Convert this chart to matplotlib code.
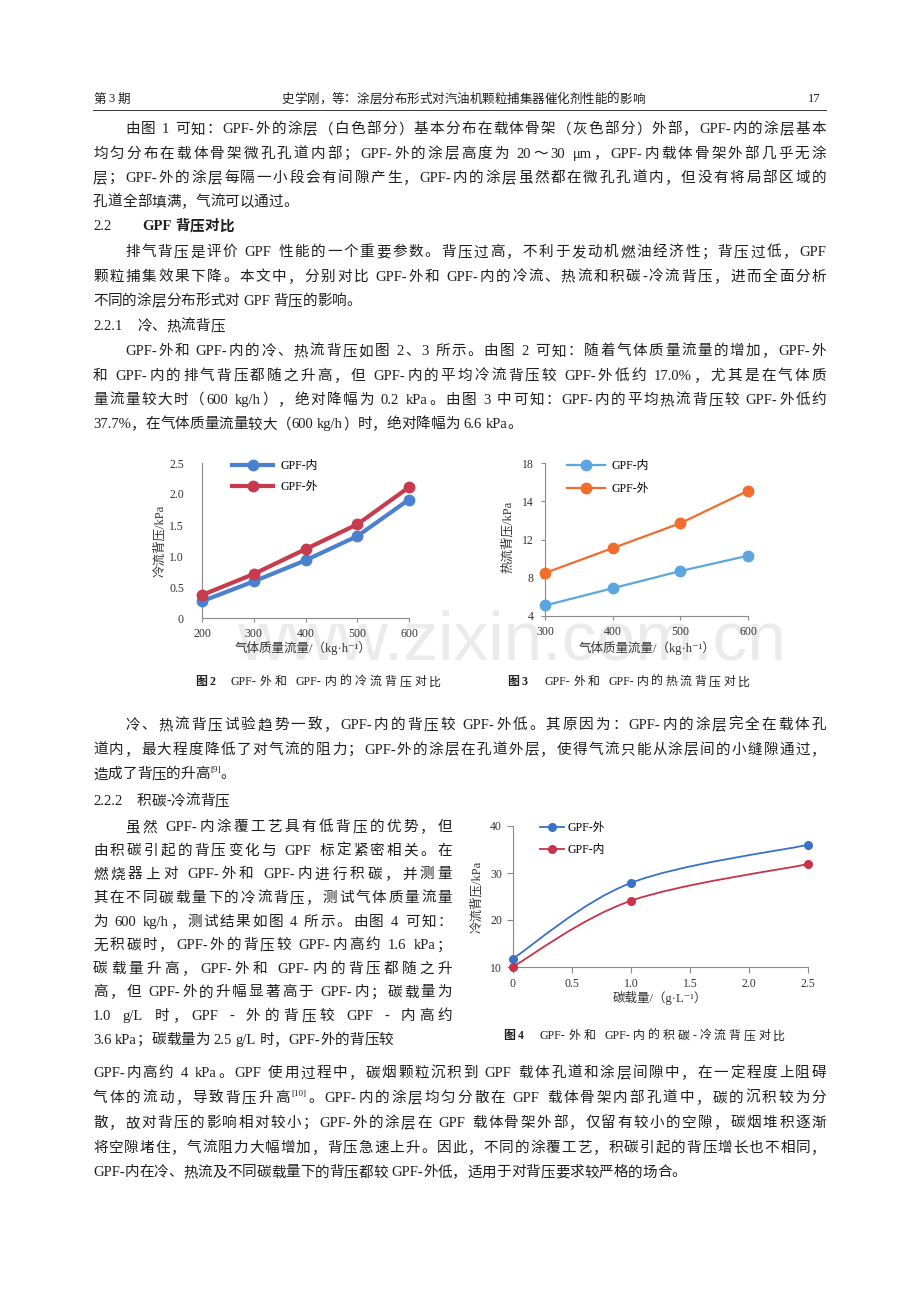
import numpy as np
import matplotlib
matplotlib.use('Agg')
import matplotlib.pyplot as plt
from matplotlib.path import Path
from matplotlib.patches import PathPatch
from matplotlib.lines import Line2D

plt.rcParams['font.family'] = ['Liberation Serif', 'Noto Sans CJK SC', 'DejaVu Sans']
plt.rcParams['axes.unicode_minus'] = False

W, H = 920, 1302
FS = 10.5
INK = '#1e1e1e'

# ---- chart data ----
# fig 2: cold flow back pressure
flow_cold = [200, 300, 400, 500, 600]
cold_in = [0.27, 0.59, 0.93, 1.32, 1.91]
cold_out = [0.37, 0.71, 1.11, 1.51, 2.11]
cold_yticks = [0, 0.5, 1.0, 1.5, 2.0, 2.5]
cold_ylabels = ['0', '0.5', '1.0', '1.5', '2.0', '2.5']

# fig 3: hot flow back pressure (tick labels printed as on the page)
flow_hot = [300, 400, 500, 600]
hot_in = [5.1, 6.9, 8.7, 10.3]
hot_out = [8.5, 11.1, 13.7, 17.1]
hot_yticks = [4, 8, 12, 16, 20]
hot_ylabels = ['4', '8', '12', '14', '18']

# fig 4: soot loading vs cold flow back pressure
soot = [0, 1.0, 2.5]
soot_out = [11.8, 27.9, 36.0]
soot_in = [10.1, 24.1, 31.9]
soot_xticks = [0, 0.5, 1.0, 1.5, 2.0, 2.5]
soot_xlabels = ['0', '0.5', '1.0', '1.5', '2.0', '2.5']

# ---- page text ----
para1 = ["由图 1 可知：GPF-外的涂层（白色部分）基本分布在载体骨架（灰色部分）外部，GPF-内的涂层基本",
         "均匀分布在载体骨架微孔孔道内部；GPF-外的涂层高度为 20～30 μm，GPF-内载体骨架外部几乎无涂",
         "层；GPF-外的涂层每隔一小段会有间隙产生，GPF-内的涂层虽然都在微孔孔道内，但没有将局部区域的",
         "孔道全部填满，气流可以通过。"]
para2 = ["排气背压是评价 GPF 性能的一个重要参数。背压过高，不利于发动机燃油经济性；背压过低，GPF",
         "颗粒捕集效果下降。本文中，分别对比 GPF-外和 GPF-内的冷流、热流和积碳-冷流背压，进而全面分析",
         "不同的涂层分布形式对 GPF 背压的影响。"]
para3 = ["GPF-外和 GPF-内的冷、热流背压如图 2、3 所示。由图 2 可知：随着气体质量流量的增加，GPF-外",
         "和 GPF-内的排气背压都随之升高，但 GPF-内的平均冷流背压较 GPF-外低约 17.0%，尤其是在气体质",
         "量流量较大时（600 kg/h），绝对降幅为 0.2 kPa。由图 3 中可知：GPF-内的平均热流背压较 GPF-外低约",
         "37.7%，在气体质量流量较大（600 kg/h）时，绝对降幅为 6.6 kPa。"]
para4 = ["冷、热流背压试验趋势一致，GPF-内的背压较 GPF-外低。其原因为：GPF-内的涂层完全在载体孔",
         "道内，最大程度降低了对气流的阻力；GPF-外的涂层在孔道外层，使得气流只能从涂层间的小缝隙通过，",
         "造成了背压的升高^[9]^。"]
para5 = ["虽然 GPF-内涂覆工艺具有低背压的优势，但",
         "由积碳引起的背压变化与 GPF 标定紧密相关。在",
         "燃烧器上对 GPF-外和 GPF-内进行积碳，并测量",
         "其在不同碳载量下的冷流背压，测试气体质量流量",
         "为 600 kg/h，测试结果如图 4 所示。由图 4 可知：",
         "无积碳时，GPF-外的背压较 GPF-内高约 1.6 kPa；",
         "碳载量升高，GPF-外和 GPF-内的背压都随之升",
         "高，但 GPF-外的升幅显著高于 GPF-内；碳载量为",
         "1.0 g/L 时，GPF - 外的背压较 GPF - 内高约",
         "3.6 kPa；碳载量为 2.5 g/L 时，GPF-外的背压较"]
para6 = ["GPF-内高约 4 kPa。GPF 使用过程中，碳烟颗粒沉积到 GPF 载体孔道和涂层间隙中，在一定程度上阻碍",
         "气体的流动，导致背压升高^[10]^。GPF-内的涂层均匀分散在 GPF 载体骨架内部孔道中，碳的沉积较为分",
         "散，故对背压的影响相对较小；GPF-外的涂层在 GPF 载体骨架外部，仅留有较小的空隙，碳烟堆积逐渐",
         "将空隙堵住，气流阻力大幅增加，背压急速上升。因此，不同的涂覆工艺，积碳引起的背压增长也不相同，",
         "GPF-内在冷、热流及不同碳载量下的背压都较 GPF-外低，适用于对背压要求较严格的场合。"]

fig = plt.figure(figsize=(W / 100, H / 100), dpi=100)
renderer = fig.canvas.get_renderer()


def tokenize(s):
    toks, buf, i = [], '', 0
    while i < len(s):
        c = s[i]
        if c == '^':
            j = s.index('^', i + 1)
            if buf:
                toks.append(('w', buf)); buf = ''
            toks.append(('sup', s[i + 1:j]))
            i = j + 1
            continue
        if c in ' 　':
            if buf:
                toks.append(('w', buf)); buf = ''
            toks.append(('sp', 0.25 if c == ' ' else 1.0))
        elif ord(c) < 0x2000:
            buf += c
        else:
            if buf:
                toks.append(('w', buf)); buf = ''
            toks.append(('w', c))
        i += 1
    if buf:
        toks.append(('w', buf))
    return toks


def text_line(s, x0, yc, x1=None, size=FS, weight='normal', color=INK, center=None):
    # place a line token by token so it can be justified between x0 and x1
    px = size * 100 / 72
    items = []
    for kind, t in tokenize(s):
        if kind == 'sp':
            items.append((None, px * t, kind))
            continue
        fs = size * 0.62 if kind == 'sup' else size
        txt = fig.text(0, 0, t, fontsize=fs, weight=weight, color=color,
                       ha='left', va='baseline')
        items.append((txt, txt.get_window_extent(renderer).width, kind))
    total = sum(w for _, w, _ in items)
    extra = 0
    if x1 is not None and len(items) > 1:
        extra = (x1 - x0 - total) / (len(items) - 1)
    if center is not None:
        x0 = center - total / 2
    base = yc + 0.36 * px
    x = x0
    for txt, w, kind in items:
        if txt is not None:
            yy = base - 0.42 * px if kind == 'sup' else base
            txt.set_position((x / W, 1 - yy / H))
        x += w + extra


def paragraph(lines, y0, step, left=93, right=826, indent=32):
    for k, s in enumerate(lines):
        x0 = left + indent if k == 0 else left
        last = k == len(lines) - 1
        text_line(s, x0, y0 + k * step, None if last else right)


# header
text_line("第 3 期", 93, 98, size=9)
text_line("史学刚，等：涂层分布形式对汽油机颗粒捕集器催化剂性能的影响", 0, 98, size=9, center=463)
text_line("17", 808, 98, size=9)
fig.add_artist(Line2D([93 / W, 826 / W], [1 - 110 / H, 1 - 110 / H], color='#333333', lw=0.7))

paragraph(para1, 128, 24.3)
text_line("2.2", 93, 225)
text_line("GPF 背压对比", 142, 225, weight='bold')
paragraph(para2, 251, 24.5)
text_line("2.2.1　冷、热流背压", 93, 325)
paragraph(para3, 350, 24.4)

paragraph(para4, 724, 24.5)
text_line("2.2.2　积碳-冷流背压", 93, 800)
paragraph(para5, 826, 23.6, right=452)
paragraph(para6, 1072, 24.8, indent=0)

# captions
CAP = 8.6
text_line("图 2", 195, 681, size=CAP, weight='bold')
text_line("GPF-外和 GPF-内的冷流背压对比", 231, 681, 441, size=CAP)
text_line("图 3", 507, 681, size=CAP, weight='bold')
text_line("GPF-外和 GPF-内的热流背压对比", 545, 681, 750, size=CAP)
text_line("图 4", 503, 1035, size=CAP, weight='bold')
text_line("GPF-外和 GPF-内的积碳-冷流背压对比", 540, 1035, 785, size=CAP)

# watermark
fig.text(512 / W, 1 - 660 / H, "www.zixin.com.cn", fontsize=50, family='Liberation Sans',
         color='#ebebeb', ha='center', va='baseline', zorder=-5)


def make_axes(x0, x1, ytop, ybot):
    ax = fig.add_axes([x0 / W, 1 - ybot / H, (x1 - x0) / W, (ybot - ytop) / H])
    ax.patch.set_alpha(0)
    for side in ['top', 'right']:
        ax.spines[side].set_visible(False)
    for side in ['left', 'bottom']:
        ax.spines[side].set_color('#8a8a8a')
        ax.spines[side].set_linewidth(0.8)
    ax.tick_params(colors='#8a8a8a', labelcolor='#333333', labelsize=8.5, width=0.8)
    return ax


def smooth_line(ax, xs, ys, **kw):
    # smoothed line through the points (Catmull-Rom as cubic Bezier)
    p = np.column_stack([xs, ys]).astype(float)
    n = len(p)
    verts, codes = [p[0]], [Path.MOVETO]
    for i in range(n - 1):
        a = p[i - 1] if i > 0 else p[i]
        d = p[i + 2] if i + 2 < n else p[i + 1]
        verts += [p[i] + (p[i + 1] - a) / 6, p[i + 1] - (d - p[i]) / 6, p[i + 1]]
        codes += [Path.CURVE4] * 3
    ax.add_patch(PathPatch(Path(verts, codes), fill=False, **kw))


LBL = 9

# ---- fig 2 ----
c_in, c_out = '#4b80cf', '#c83a4d'
ax1 = make_axes(202, 409, 463, 618)
ax1.plot(flow_cold, cold_in, '-o', color=c_in, lw=3, ms=7.5, clip_on=False, zorder=3)
ax1.plot(flow_cold, cold_out, '-o', color=c_out, lw=3, ms=7.5, clip_on=False, zorder=3)
ax1.set_xlim(200, 600)
ax1.set_ylim(0, 2.5)
ax1.set_xticks(flow_cold)
ax1.set_yticks(cold_yticks)
ax1.set_yticklabels(cold_ylabels)
ax1.tick_params(axis='y', length=0, pad=13)
ax1.tick_params(axis='x', length=3, pad=4)
ax1.set_ylabel("冷流背压/kPa", fontsize=LBL, color='#333333', va='center')
ax1.yaxis.set_label_coords((160 - 202) / 207, 0.5)
ax1.set_xlabel("气体质量流量/（kg·h⁻¹）", fontsize=LBL, color='#333333', va='center')
ax1.xaxis.set_label_coords((303 - 202) / 207, (618 - 648) / 155)
ax1.legend(["GPF-内", "GPF-外"], loc='upper left', bbox_to_anchor=(0.145, 1.02),
           frameon=False, fontsize=8.5, handlelength=3.5, handletextpad=0.6,
           labelspacing=0.8, borderpad=0, borderaxespad=0)

# ---- fig 3 ----
h_in, h_out = '#5ba6e1', '#f26d2d'
ax2 = make_axes(545, 748, 463, 616)
ax2.plot(flow_hot, hot_in, '-o', color=h_in, lw=1.6, ms=7.5, clip_on=False, zorder=3)
ax2.plot(flow_hot, hot_out, '-o', color=h_out, lw=1.6, ms=7.5, clip_on=False, zorder=3)
ax2.set_xlim(300, 600)
ax2.set_ylim(4, 20)
ax2.set_xticks(flow_hot)
ax2.set_yticks(hot_yticks)
ax2.set_yticklabels(hot_ylabels)
ax2.tick_params(axis='y', length=3, pad=5)
ax2.tick_params(axis='x', length=3, pad=4)
ax2.set_ylabel("热流背压/kPa", fontsize=LBL, color='#333333', va='center')
ax2.yaxis.set_label_coords((508 - 545) / 203, 0.516)
ax2.set_xlabel("气体质量流量/（kg·h⁻¹）", fontsize=LBL, color='#333333', va='center')
ax2.xaxis.set_label_coords((647 - 545) / 203, (616 - 648) / 153)
ax2.legend(["GPF-内", "GPF-外"], loc='upper left', bbox_to_anchor=(0.108, 1.02),
           frameon=False, fontsize=8.5, handlelength=3.2, handletextpad=0.6,
           labelspacing=0.95, borderpad=0, borderaxespad=0)

# ---- fig 4 ----
s_out, s_in = '#3b70c7', '#c8324b'
ax3 = make_axes(513, 808, 826, 967)
ax3.set_xlim(0, 2.5)
ax3.set_ylim(10, 40)
smooth_line(ax3, soot, soot_out, color=s_out, lw=1.3)
smooth_line(ax3, soot, soot_in, color=s_in, lw=1.3)
ax3.plot(soot, soot_out, 'o', color=s_out, ms=5.5, clip_on=False, zorder=3)
ax3.plot(soot, soot_in, 'o', color=s_in, ms=5.5, clip_on=False, zorder=3)
ax3.set_xticks(soot_xticks)
ax3.set_xticklabels(soot_xlabels)
ax3.set_yticks([10, 20, 30, 40])
ax3.tick_params(axis='both', length=4, pad=4)
ax3.set_ylabel("冷流背压/kPa", fontsize=LBL, color='#333333', va='center')
ax3.yaxis.set_label_coords((477 - 513) / 295, 0.496)
ax3.set_xlabel("碳载量/（g·L⁻¹）", fontsize=LBL, color='#333333', va='center')
ax3.xaxis.set_label_coords((660 - 513) / 295, (967 - 998) / 141)
handles = [Line2D([], [], color=s_out, lw=1.3, marker='o', ms=5.5),
           Line2D([], [], color=s_in, lw=1.3, marker='o', ms=5.5)]
ax3.legend(handles, ["GPF-外", "GPF-内"], loc='upper left', bbox_to_anchor=(0.092, 1.03),
           frameon=False, fontsize=8.5, handlelength=2.0, handletextpad=0.3,
           labelspacing=0.9, borderpad=0, borderaxespad=0)

fig.savefig('out.png', dpi=100)
